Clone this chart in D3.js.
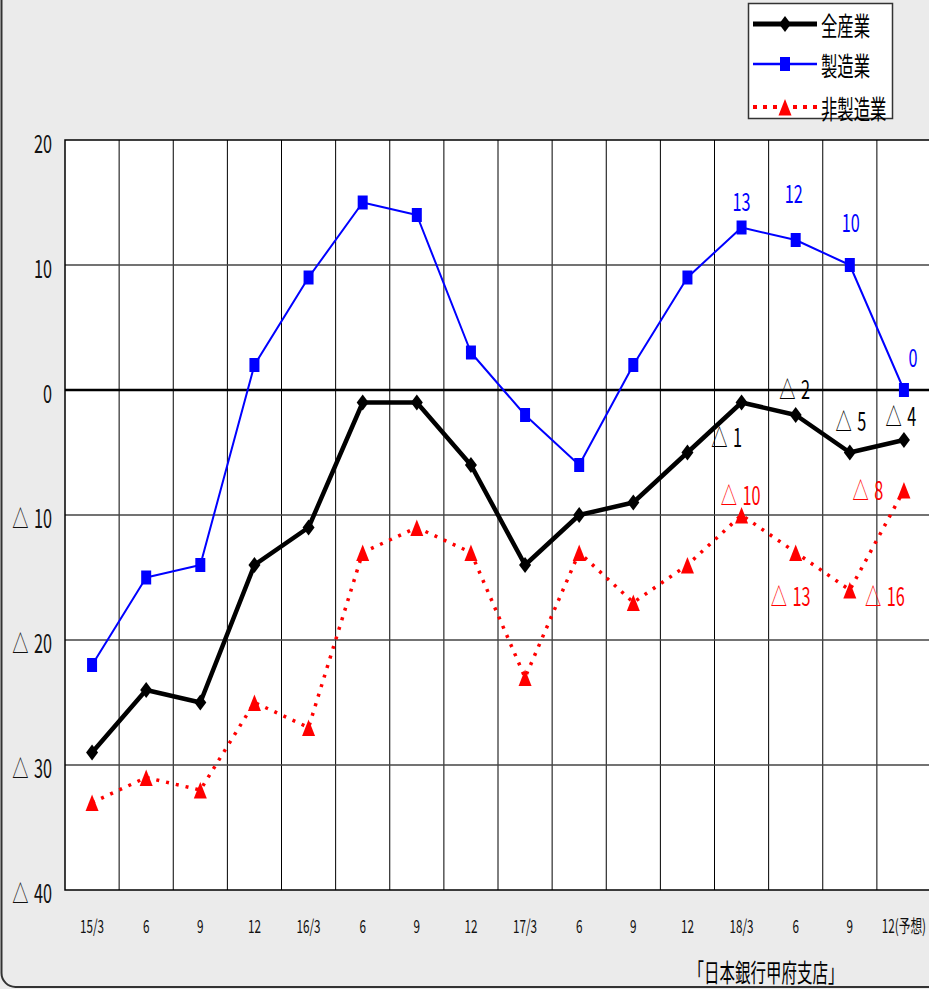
<!DOCTYPE html>
<html>
<head>
<meta charset="utf-8">
<script src="https://cdn.jsdelivr.net/npm/d3@7"></script>
<style>
  html, body { margin: 0; padding: 0; background: #ebebeb; }
  svg { display: block; }
  text { font-family: "Noto Sans CJK JP", "Noto Sans", sans-serif; }
</style>
</head>
<body>
<svg id="chart" width="929" height="989"></svg>
<script>
// Quarterly survey periods (年/月)
const periods = ["15/3", "6", "9", "12", "16/3", "6", "9", "12", "17/3", "6", "9", "12", "18/3", "6", "9", "12(予想)"];

// Diffusion index by industry
const allIndustries    = [-29, -24, -25, -14, -11, -1, -1, -6, -14, -10, -9, -5, -1, -2, -5, -4];
const manufacturing    = [-22, -15, -14, 2, 9, 15, 14, 3, -2, -6, 2, 9, 13, 12, 10, 0];
const nonManufacturing = [-33, -31, -32, -25, -27, -13, -11, -13, -23, -13, -17, -14, -10, -13, -16, -8];

const seriesNames = ["全産業", "製造業", "非製造業"];
const yTicks = [20, 10, 0, -10, -20, -30, -40];

// Points from this index on carry a value label
const labelFrom = 12;

// Negative values are written with a leading △
const fmt = v => v < 0 ? "△\u2004" + Math.abs(v) : String(v);

const W = 929, H = 989;
const margin = { left: 65, top: 140, bottom: 99 };
const plotW = 866;

const svg = d3.select("#chart");

// Outer frame with rounded corners
svg.append("rect")
  .attr("x", 1.5).attr("y", -30)
  .attr("width", 1000).attr("height", 1017)
  .attr("rx", 14)
  .attr("fill", "#ebebeb").attr("stroke", "#333").attr("stroke-width", 2);

const x = d3.scaleBand().domain(d3.range(periods.length))
  .range([margin.left, margin.left + plotW]);
const y = d3.scaleLinear().domain([-40, 20])
  .range([H - margin.bottom, margin.top]);
const cx = i => x(i) + x.bandwidth() / 2;

// Horizontally condensed lettering
function condense(sel, sx) {
  sel.each(function () {
    const t = d3.select(this);
    const tx = +t.attr("x") || 0;
    const ty = +t.attr("y") || 0;
    t.attr("x", 0).attr("y", 0)
      .attr("transform", `translate(${tx},${ty}) scale(${sx},1)`);
  });
}
const SX = 0.65;

// Plot background
svg.append("rect")
  .attr("x", margin.left).attr("y", margin.top)
  .attr("width", plotW).attr("height", y(-40) - y(20))
  .attr("fill", "#fff");

// Vertical gridlines between periods
svg.append("g").selectAll("line")
  .data(d3.range(1, periods.length))
  .join("line")
  .attr("x1", i => x(i)).attr("x2", i => x(i))
  .attr("y1", y(20)).attr("y2", y(-40))
  .attr("stroke", "#000").attr("stroke-width", 1);

// Horizontal gridlines
svg.append("g").selectAll("line")
  .data(yTicks.filter(v => v !== 20 && v !== -40 && v !== 0))
  .join("line")
  .attr("x1", margin.left).attr("x2", margin.left + plotW)
  .attr("y1", v => y(v)).attr("y2", v => y(v))
  .attr("stroke", "#444").attr("stroke-width", 1.5);

// Zero line
svg.append("line")
  .attr("x1", margin.left).attr("x2", margin.left + plotW)
  .attr("y1", y(0)).attr("y2", y(0))
  .attr("stroke", "#000").attr("stroke-width", 2.5);

// Plot border
svg.append("rect")
  .attr("x", margin.left).attr("y", margin.top)
  .attr("width", plotW).attr("height", y(-40) - y(20))
  .attr("fill", "none").attr("stroke", "#000").attr("stroke-width", 1.5);

// Y axis
const yAxis = svg.append("g")
  .attr("transform", `translate(${margin.left},0)`)
  .call(d3.axisLeft(y).tickValues(yTicks).tickFormat(fmt).tickSize(0).tickPadding(13));
yAxis.select(".domain").remove();
yAxis.selectAll("text")
  .attr("font-size", 25).attr("fill", "#111")
  .attr("font-family", "Noto Sans CJK JP")
  .attr("dy", null).attr("y", 12);
condense(yAxis.selectAll("text"), SX);

// X axis
const xAxis = svg.append("g")
  .attr("transform", `translate(0,${y(-40)})`)
  .call(d3.axisBottom(x).tickFormat(i => periods[i]).tickSize(0).tickPadding(0));
xAxis.select(".domain").remove();
xAxis.selectAll("text")
  .attr("font-size", 18).attr("fill", "#111")
  .attr("font-family", "Noto Sans CJK JP")
  .attr("dy", null).attr("y", 43);
condense(xAxis.selectAll("text"), SX);

// Marker shapes
const shapes = {
  diamond: "M0,-8L6,0L0,8L-6,0Z",
  square: "M-5,-7h10v14h-10Z",
  triangle: "M0,-8L6.5,8.5L-6.5,8.5Z"
};

const series = [
  { name: seriesNames[2], values: nonManufacturing, color: "#ff0000", width: 3.5, dash: "3,7", shape: "triangle",
    labelOffsets: [[-1, -10], [-5, 53.5], [35, 16], [-36, 10]] },
  { name: seriesNames[1], values: manufacturing, color: "#0000ff", width: 2, dash: null, shape: "square",
    labelOffsets: [[0, -17], [-2, -37], [1, -33], [9, -23]] },
  { name: seriesNames[0], values: allIndustries, color: "#000000", width: 4.5, dash: null, shape: "diamond",
    labelOffsets: [[-15, 44.5], [-1, -16], [1, -21.5], [-3, -14]] }
];

const line = d3.line().x((d, i) => cx(i)).y(d => y(d));

series.forEach(s => {
  const g = svg.append("g");
  g.append("path")
    .datum(s.values)
    .attr("d", line)
    .attr("fill", "none")
    .attr("stroke", s.color)
    .attr("stroke-width", s.width)
    .attr("stroke-dasharray", s.dash)
    .attr("stroke-linejoin", "round");
  g.selectAll("path.marker")
    .data(s.values)
    .join("path")
    .attr("class", "marker")
    .attr("d", shapes[s.shape])
    .attr("transform", (d, i) => `translate(${cx(i)},${y(d)})`)
    .attr("fill", s.color);
});

// Value labels for the latest periods
series.forEach(s => {
  const pts = s.values.map((v, i) => ({ v, i })).slice(labelFrom);
  const labels = svg.append("g").selectAll("text")
    .data(pts)
    .join("text")
    .attr("x", (d, k) => cx(d.i) + s.labelOffsets[k][0])
    .attr("y", (d, k) => y(d.v) + s.labelOffsets[k][1])
    .attr("text-anchor", "middle")
    .attr("font-size", 25)
    .attr("fill", s.color)
    .text(d => fmt(d.v));
  condense(labels, SX);
});

// Legend: 全産業, 製造業, 非製造業 from top
const legend = svg.append("g");
legend.append("rect")
  .attr("x", 748.5).attr("y", 3.5).attr("width", 144).attr("height", 115)
  .attr("fill", "#fff").attr("stroke", "#333").attr("stroke-width", 1.5);
const legendOrder = [series[2], series[1], series[0]];
const rowY = [24, 64, 107];
legendOrder.forEach((s, k) => {
  const g = legend.append("g").attr("transform", `translate(0,${rowY[k]})`);
  g.append("line")
    .attr("x1", 753).attr("x2", 817)
    .attr("stroke", s.color)
    .attr("stroke-width", s.shape === "diamond" ? 5 : (s.shape === "square" ? 2.5 : 4))
    .attr("stroke-dasharray", s.dash ? "4,6" : null);
  g.append("path")
    .attr("d", shapes[s.shape])
    .attr("transform", "translate(785,0)")
    .attr("fill", s.color);
  const t = g.append("text")
    .attr("x", 821).attr("y", 1)
    .attr("dominant-baseline", "central")
    .attr("font-size", 26)
    .attr("fill", "#000")
    .text(s.name);
  condense(t, 0.63);
});

// Source note
const src = svg.append("text")
  .attr("x", 766).attr("y", 982)
  .attr("text-anchor", "middle")
  .attr("font-size", 25)
  .attr("fill", "#000")
  .text("「日本銀行甲府支店」");
condense(src, 0.62);
</script>
</body>
</html>
